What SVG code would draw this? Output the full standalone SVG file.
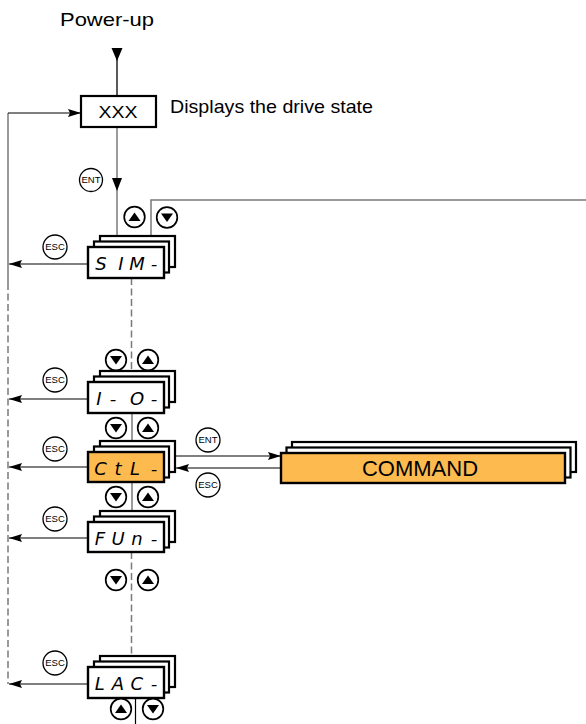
<svg xmlns="http://www.w3.org/2000/svg" width="586" height="724" viewBox="0 0 586 724">
<style>
.t{font-family:"Liberation Sans",Arial,sans-serif;fill:#000}
.seg{font-family:"DejaVu Sans","Liberation Sans",sans-serif;font-weight:200;font-style:italic;font-size:18px;fill:#000;text-anchor:middle}
.box{fill:#fff;stroke:#000;stroke-width:2.2}
.front{fill:#fff;stroke:#000;stroke-width:2.4}
.orange{fill:#FCBA4F}
.key{fill:#fff;stroke:#000;stroke-width:1.3}
.keyt{font-family:"Liberation Sans",Arial,sans-serif;font-size:9.5px;text-anchor:middle;fill:#000}
.btn{fill:#fff;stroke:#000;stroke-width:1.7}
.g{fill:none;stroke:#7a7a7a;stroke-width:1.5}
.gd{fill:none;stroke:#7a7a7a;stroke-width:1.5;stroke-dasharray:7 3.5}
.k{fill:none;stroke:#000;stroke-width:1.2}
</style>
<defs>
<marker id="ah" markerUnits="userSpaceOnUse" markerWidth="14" markerHeight="8" refX="13" refY="4" orient="auto">
<path d="M0,0 L13,4 L0,8 L2,4 z" fill="#000"/>
</marker>
<g id="up"><circle r="10.3" class="btn"/><path d="M-6,4 L6,4 L0,-4.5 z" fill="#000"/></g>
<g id="dn"><circle r="10.3" class="btn"/><path d="M-6,-4 L6,-4 L0,4.5 z" fill="#000"/></g>
</defs>

<g id="connectors">
<line x1="117" y1="48" x2="117" y2="96" stroke="#000" stroke-width="1.3"/>
<path d="M111.5,48 L122.5,48 L117,61 z" fill="#000"/>
<line x1="117" y1="127" x2="117" y2="236" class="g"/>
<path d="M112,178 L122,178 L117,191 z" fill="#000"/>
<polyline points="151,236 151,200 586,200" class="g"/>
<line x1="8" y1="113" x2="8" y2="283" class="g"/>
<line x1="8" y1="283" x2="8" y2="684" class="gd"/>
<line x1="8" y1="113" x2="81" y2="113" class="k" marker-end="url(#ah)"/>
<line x1="131.5" y1="278" x2="131.5" y2="371" class="gd"/>
<line x1="132" y1="413" x2="132" y2="441" class="g"/>
<line x1="132" y1="482" x2="132" y2="511" class="g"/>
<line x1="131.5" y1="552" x2="131.5" y2="656" class="gd"/>
<line x1="135.5" y1="698" x2="135.5" y2="724" class="k"/>
<line x1="88" y1="264" x2="9" y2="264" class="k" marker-end="url(#ah)"/>
<line x1="88" y1="399" x2="9" y2="399" class="k" marker-end="url(#ah)"/>
<line x1="88" y1="467" x2="9" y2="467" class="k" marker-end="url(#ah)"/>
<line x1="88" y1="538" x2="9" y2="538" class="k" marker-end="url(#ah)"/>
<line x1="88" y1="684" x2="9" y2="684" class="k" marker-end="url(#ah)"/>
<line x1="176" y1="456" x2="281" y2="456" class="k" marker-end="url(#ah)"/>
<line x1="281" y1="468" x2="176" y2="468" class="k" marker-end="url(#ah)"/>
</g>

<g id="title">
<text class="t" x="107" y="26" font-size="18.5" text-anchor="middle" textLength="94" lengthAdjust="spacingAndGlyphs">Power-up</text>
</g>

<g id="xxx">
<rect x="81" y="96" width="75" height="31" class="box"/>
<text class="t" x="118" y="118" font-size="17" text-anchor="middle" textLength="39" lengthAdjust="spacingAndGlyphs">XXX</text>
</g>
<g id="state-label">
<text class="t" x="170" y="113" font-size="18.5" textLength="203" lengthAdjust="spacingAndGlyphs">Displays the drive state</text>
</g>

<g id="sim">
<rect x="100" y="236" width="75" height="31" class="box"/>
<rect x="94" y="241.5" width="75" height="31" class="box"/>
<rect x="88" y="247" width="76" height="31" class="front"/>
<text class="seg" y="270"><tspan x="101">S</tspan><tspan x="121">I</tspan><tspan x="137">M</tspan><tspan x="154">-</tspan></text>
</g>
<g id="io">
<rect x="100" y="371" width="75" height="31" class="box"/>
<rect x="94" y="376.5" width="75" height="31" class="box"/>
<rect x="88" y="382" width="76" height="31" class="front"/>
<text class="seg" y="405"><tspan x="99">I</tspan><tspan x="113">-</tspan><tspan x="137">O</tspan><tspan x="154">-</tspan></text>
</g>
<g id="ctl">
<rect x="100" y="441" width="75" height="31" class="box"/>
<rect x="94" y="446.5" width="75" height="31" class="box"/>
<rect x="88" y="452" width="76" height="30" class="front orange"/>
<text class="seg" y="474.5"><tspan x="100.5">C</tspan><tspan x="118">t</tspan><tspan x="135">L</tspan><tspan x="154">-</tspan></text>
</g>
<g id="fun">
<rect x="100" y="511" width="75" height="31" class="box"/>
<rect x="94" y="516.5" width="75" height="31" class="box"/>
<rect x="88" y="522" width="76" height="30" class="front"/>
<text class="seg" y="544.5"><tspan x="100">F</tspan><tspan x="118">U</tspan><tspan x="137">n</tspan><tspan x="154">-</tspan></text>
</g>
<g id="lac">
<rect x="100" y="656" width="75" height="31" class="box"/>
<rect x="94" y="661.5" width="75" height="31" class="box"/>
<rect x="88" y="667" width="76" height="31" class="front"/>
<text class="seg" y="690"><tspan x="99.7">L</tspan><tspan x="118">A</tspan><tspan x="136.7">C</tspan><tspan x="154">-</tspan></text>
</g>

<g id="command">
<rect x="292" y="442" width="284" height="30" class="box"/>
<rect x="286.5" y="447.5" width="284" height="30" class="box"/>
<rect x="281" y="453" width="284" height="30" class="front orange"/>
<text class="t" x="420" y="476" font-size="22" text-anchor="middle">COMMAND</text>
</g>

<g id="keys">
<g transform="translate(91,180)"><circle r="11.5" class="key"/><text class="keyt" y="3.4">ENT</text></g>
<g transform="translate(55,247)"><circle r="12" class="key"/><text class="keyt" y="3.4">ESC</text></g>
<g transform="translate(55,380)"><circle r="12" class="key"/><text class="keyt" y="3.4">ESC</text></g>
<g transform="translate(55,449)"><circle r="12" class="key"/><text class="keyt" y="3.4">ESC</text></g>
<g transform="translate(55,519)"><circle r="12" class="key"/><text class="keyt" y="3.4">ESC</text></g>
<g transform="translate(55,663)"><circle r="12" class="key"/><text class="keyt" y="3.4">ESC</text></g>
<g transform="translate(208,440)"><circle r="12" class="key"/><text class="keyt" y="3.4">ENT</text></g>
<g transform="translate(208,485)"><circle r="12" class="key"/><text class="keyt" y="3.4">ESC</text></g>
</g>

<g id="buttons">
<use href="#up" x="134.5" y="217"/>
<use href="#dn" x="167" y="217.5"/>
<use href="#dn" x="116" y="360"/>
<use href="#up" x="148" y="360"/>
<use href="#dn" x="116" y="428"/>
<use href="#up" x="148" y="428"/>
<use href="#dn" x="116" y="497"/>
<use href="#up" x="148" y="497"/>
<use href="#dn" x="116" y="580"/>
<use href="#up" x="148" y="580"/>
<use href="#up" x="121" y="709"/>
<use href="#dn" x="153" y="709"/>
</g>
</svg>
